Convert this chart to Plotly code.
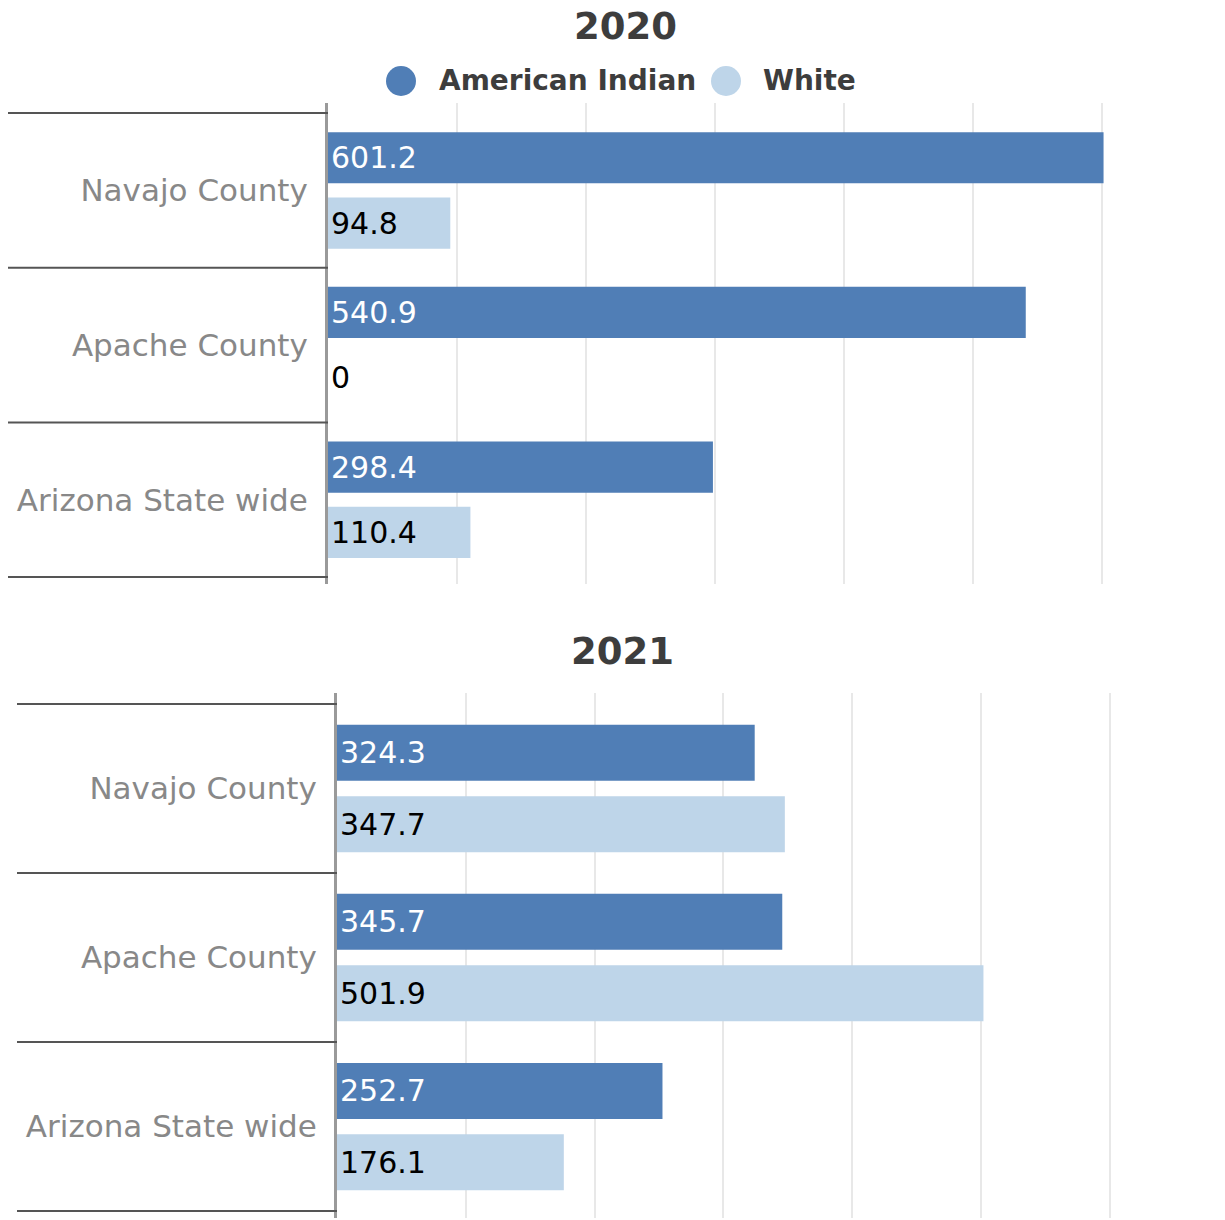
import plotly.graph_objects as go

categories = ["Navajo County", "Apache County", "Arizona State wide"]
series_names = ["American Indian", "White"]
years = ["2020", "2021"]
ai_2020 = [601.2, 540.9, 298.4]
white_2020 = [94.8, 0, 110.4]
ai_2021 = [324.3, 345.7, 252.7]
white_2021 = [347.7, 501.9, 176.1]
x_ticks = [0, 100, 200, 300, 400, 500, 600]

C_AI = "#507eb6"
C_WH = "#bed5e9"
FONT = "DejaVu Sans"
W, H = 1225, 1220

fig = go.Figure()

panels = [
    dict(ai=ai_2020, wh=white_2020, xa="x", ya="y",
         xdom=[328 / W, (328 + 605 * 1.29) / W], ydom=[1 - 584 / H, 1 - 103 / H],
         yrange=[2.545, -0.565], sep_x0=8 / W, title_x=625, title_y=1 - 27 / H),
    dict(ai=ai_2021, wh=white_2021, xa="x2", ya="y2",
         xdom=[337 / W, (337 + 605 * 1.288) / W], ydom=[1 - 1218 / H, 1 - 693 / H],
         yrange=[2.541, -0.565], sep_x0=17 / W, title_x=622, title_y=1 - 651 / H),
]

annotations = []
shapes = []
for p, yr in zip(panels, years):
    for name, vals, col, tcol in [(series_names[0], p["ai"], C_AI, "white"),
                                  (series_names[1], p["wh"], C_WH, "black")]:
        fig.add_trace(go.Bar(
            y=categories, x=vals, orientation="h", name=name,
            marker=dict(color=col, line=dict(width=0)),
            text=[f"{v:g}" for v in vals],
            textposition=["inside" if v > 0 else "outside" for v in vals],
            insidetextanchor="start", constraintext="none",
            insidetextfont=dict(color=tcol, size=30, family=FONT),
            outsidetextfont=dict(color="black", size=30, family=FONT),
            textangle=0, cliponaxis=False, showlegend=False,
            xaxis=p["xa"], yaxis=p["ya"], hoverinfo="x+y",
        ))
    # category separators
    for i in range(len(categories) + 1):
        shapes.append(dict(type="line", xref="paper", yref=p["ya"],
                           x0=p["sep_x0"], x1=p["xdom"][0], y0=i - 0.5, y1=i - 0.5,
                           line=dict(color="#555555", width=2)))
    annotations.append(dict(text=f"<b>{yr}</b>", xref="paper", yref="paper",
                            x=p["title_x"] / W, y=p["title_y"],
                            xanchor="center", yanchor="middle", showarrow=False,
                            font=dict(size=37, color="#3d3d3d", family=FONT)))

# manual legend with large circles
leg = [(series_names[0], C_AI, 401, 437), (series_names[1], C_WH, 726, 761)]
ly = 1 - 81 / H
for name, col, cx, tx in leg:
    shapes.append(dict(type="circle", xref="paper", yref="paper",
                       x0=(cx - 15) / W, x1=(cx + 15) / W,
                       y0=ly - 15 / H, y1=ly + 15 / H,
                       fillcolor=col, line=dict(width=0)))
    annotations.append(dict(text=f"<b>{name}</b>", xref="paper", yref="paper",
                            x=tx / W, y=ly, xanchor="left", yanchor="middle",
                            showarrow=False,
                            font=dict(size=28, color="#3d3d3d", family=FONT)))

layout = dict(
    width=W, height=H, margin=dict(l=0, r=0, t=0, b=0),
    paper_bgcolor="white", plot_bgcolor="white",
    barmode="group", bargap=0.156, bargroupgap=0.215,
    showlegend=False, shapes=shapes, annotations=annotations,
    font=dict(family=FONT),
)
for idx, p in enumerate(panels):
    sx = "" if idx == 0 else "2"
    layout[f"xaxis{sx}"] = dict(domain=p["xdom"], range=[0, 605], anchor=p["ya"],
                                tickvals=x_ticks, showticklabels=False,
                                showgrid=True, gridcolor="#e8e8e8", gridwidth=2,
                                zeroline=False, showline=False, fixedrange=True)
    layout[f"yaxis{sx}"] = dict(domain=p["ydom"], range=p["yrange"], anchor=p["xa"],
                                type="category", showgrid=False, zeroline=False,
                                showline=True, linecolor="#9a9a9a", linewidth=3,
                                ticks="", ticklabelstandoff=11,
                                tickfont=dict(size=31, color="#888888", family=FONT),
                                fixedrange=True)
fig.update_layout(**layout)
fig.write_html("out.html")
